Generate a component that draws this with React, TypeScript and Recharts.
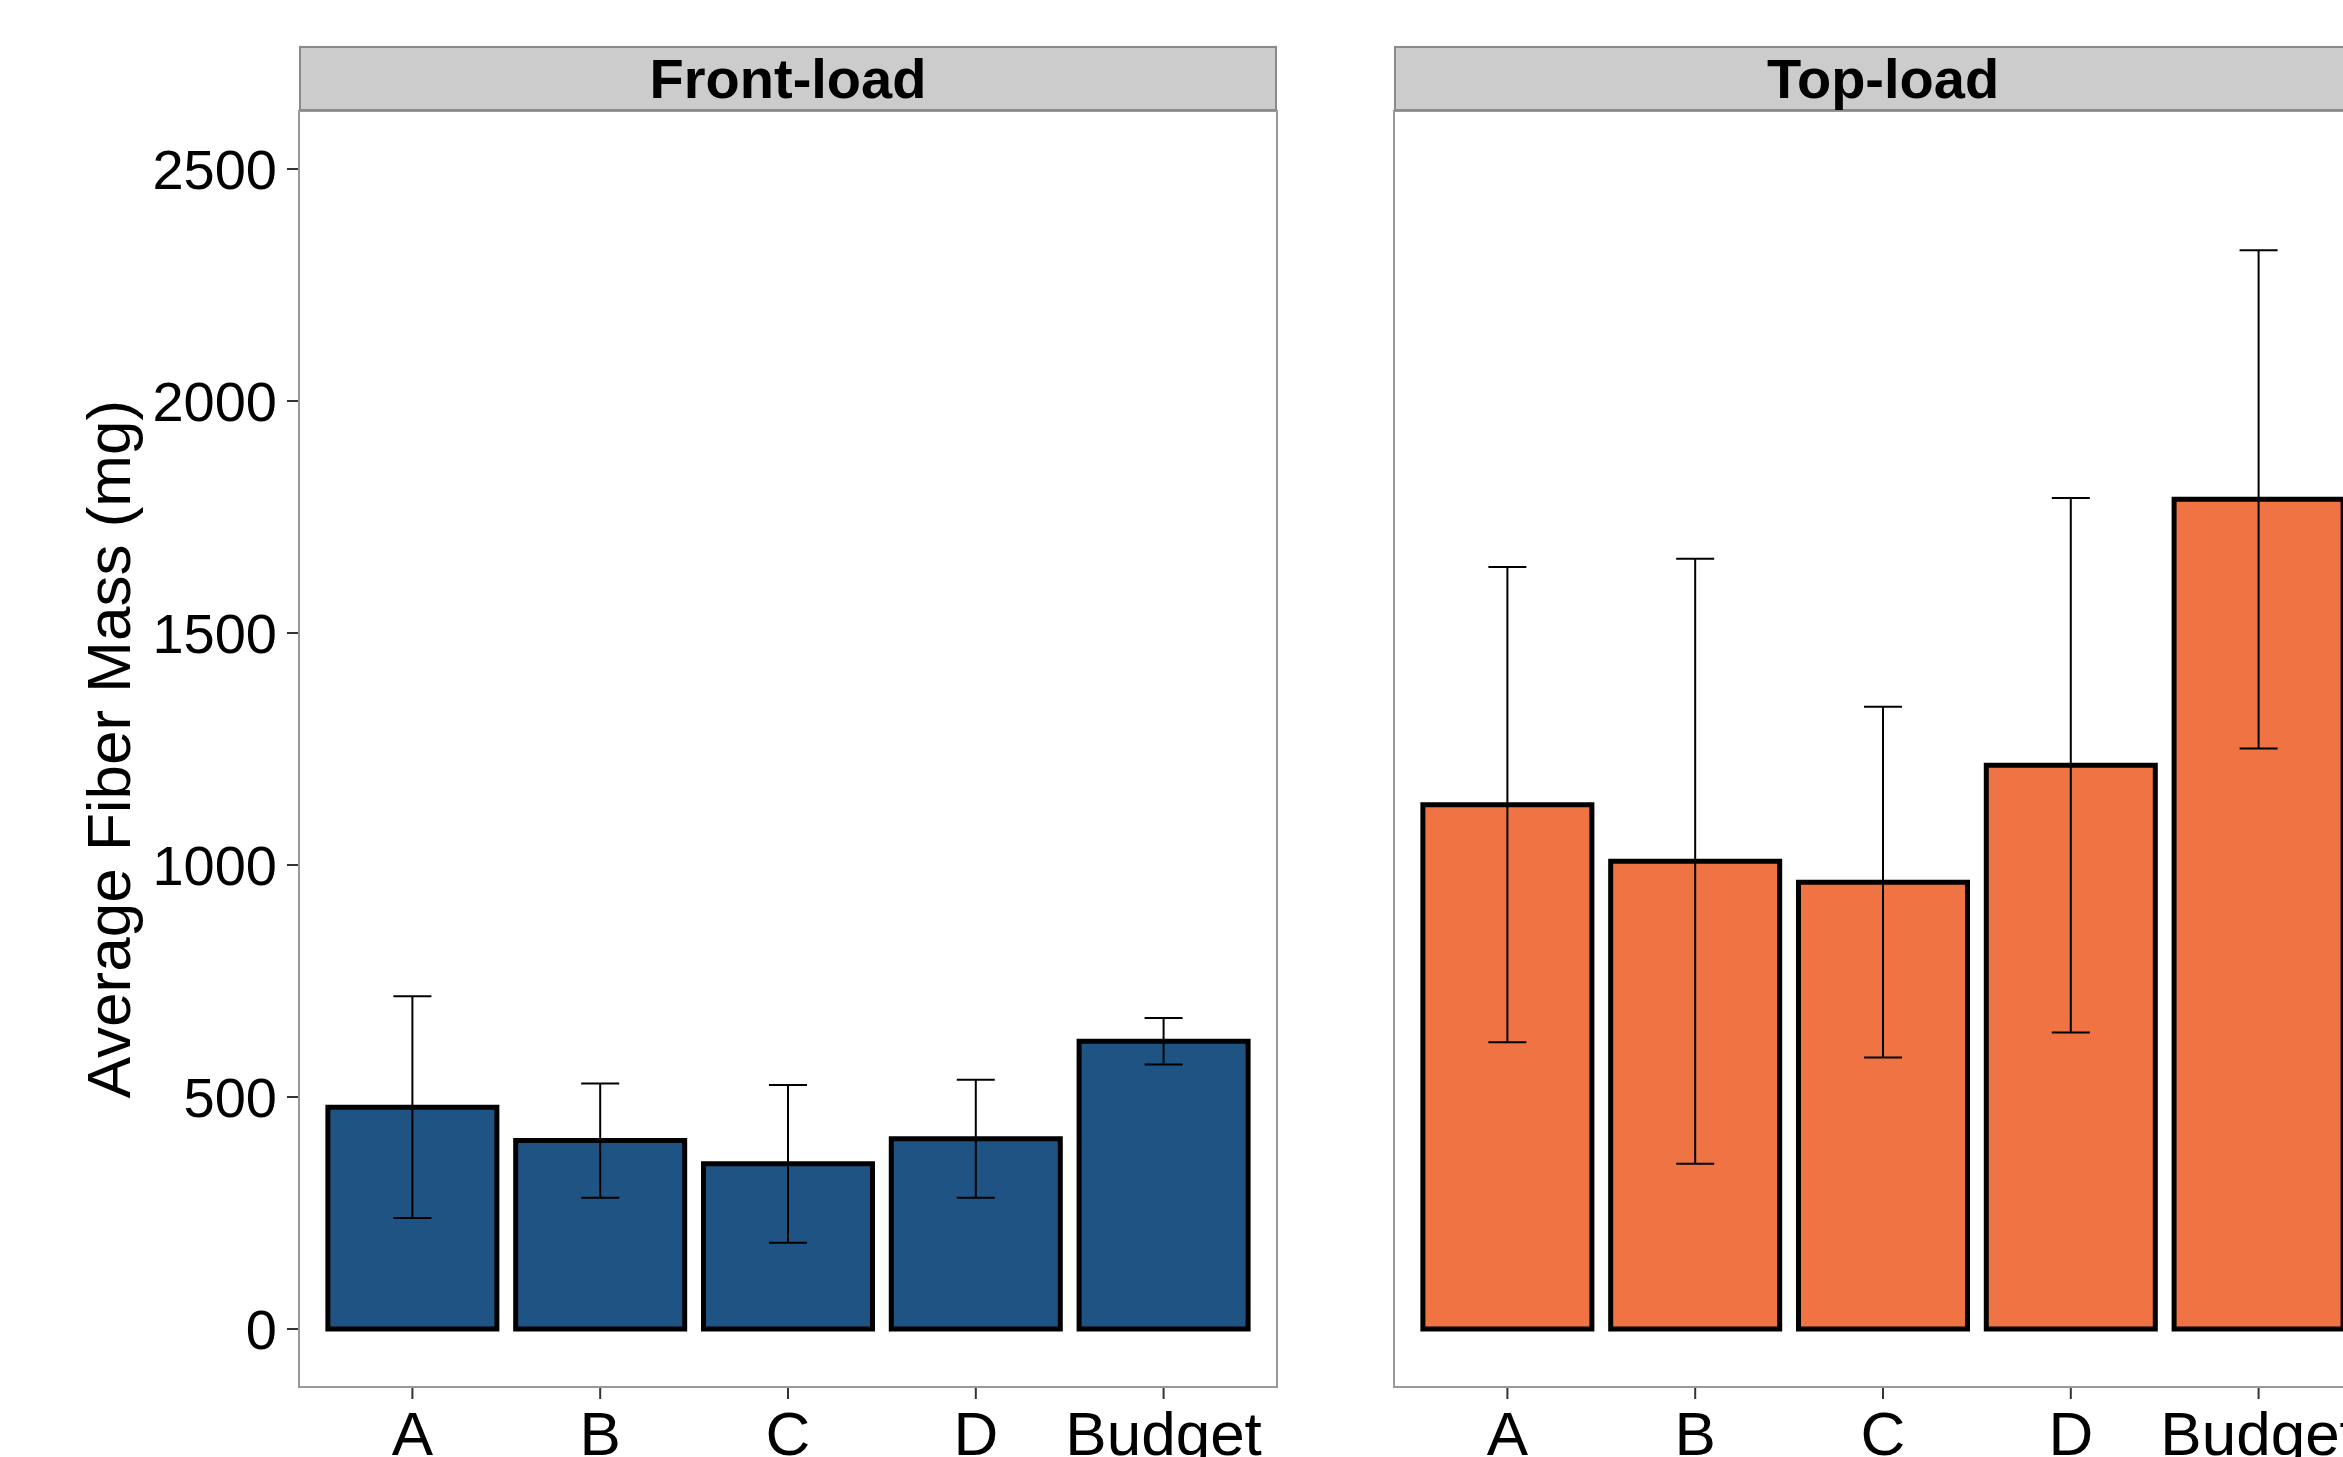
import { BarChart, Bar, XAxis, YAxis, ErrorBar } from "recharts";

const categories = ["A", "B", "C", "D", "Budget"];
const frontMeans = [478, 406, 356, 410, 620];
const frontErr = [239, 123, 170, 127, 50];
const topMeans = [1130, 1008, 963, 1215, 1788];
const topErr = [512, 652, 378, 576, 537];
const yTicks = [0, 500, 1000, 1500, 2000, 2500];

const frontData = categories.map((c, i) => ({ name: c, value: frontMeans[i], err: frontErr[i] }));
const topData = categories.map((c, i) => ({ name: c, value: topMeans[i], err: topErr[i] }));

const FONT = "'Liberation Sans', Arial, sans-serif";
const DOMAIN: [number, number] = [-125, 2625];

const PLOT_TOP = 111;
const PLOT_H = 1276;
const PLOT_W = 978;
const X_AXIS_H = 70;
const LEFT1 = 299;
const LEFT2 = 1394;

const xTickStyle = { fontSize: 62, fill: "#000", fontFamily: FONT };
const yTickStyle = { fontSize: 56, fill: "#000", fontFamily: FONT };

function Strip({ left, title }: { left: number; title: string }) {
  return (
    <div
      style={{
        position: "absolute",
        left,
        top: 46,
        width: PLOT_W,
        height: PLOT_TOP - 46,
        boxSizing: "border-box",
        background: "#CCCCCC",
        border: "2px solid #8a8a8a",
        display: "flex",
        alignItems: "center",
        justifyContent: "center",
        fontFamily: FONT,
        fontWeight: "bold",
        fontSize: 56,
        color: "#000",
      }}
    >
      {title}
    </div>
  );
}

function PanelBorder({ left }: { left: number }) {
  return (
    <div
      style={{
        position: "absolute",
        left: left - 1,
        top: PLOT_TOP - 1,
        width: PLOT_W + 2,
        height: PLOT_H + 2,
        boxSizing: "border-box",
        border: "2px solid #999",
        pointerEvents: "none",
      }}
    />
  );
}

export default function App() {
  return (
    <div
      style={{
        position: "absolute",
        left: 0,
        top: 0,
        width: 2343,
        height: 1457,
        overflow: "hidden",
        background: "#fff",
        fontFamily: FONT,
      }}
    >
      <div style={{ position: "absolute", left: 0, top: PLOT_TOP }}>
        <BarChart
          width={LEFT1 + PLOT_W + 13}
          height={PLOT_H + X_AXIS_H}
          data={frontData}
          margin={{ top: 0, right: 13, left: 0, bottom: 0 }}
          barCategoryGap="5%"
        >
          <XAxis
            dataKey="name"
            height={X_AXIS_H}
            axisLine={false}
            tickLine={{ stroke: "#333", strokeWidth: 2 }}
            tickSize={12}
            tickMargin={12}
            tick={xTickStyle}
            padding={{ left: 19.5, right: 19.5 }}
            interval={0}
          />
          <YAxis
            width={LEFT1}
            domain={DOMAIN}
            ticks={yTicks}
            allowDataOverflow
            axisLine={false}
            tickLine={{ stroke: "#333", strokeWidth: 2 }}
            tickSize={12}
            tickMargin={10}
            tick={yTickStyle}
            label={{
              value: "Average Fiber Mass (mg)",
              angle: -90,
              position: "center",
              dx: -42,
              style: { fontSize: 62, fill: "#000", fontFamily: FONT },
            }}
          />
          <Bar dataKey="value" fill="#1F5384" stroke="#000" strokeWidth={5} isAnimationActive={false}>
            <ErrorBar dataKey="err" width={19} stroke="#000" strokeWidth={2} isAnimationActive={false} />
          </Bar>
        </BarChart>
      </div>

      <div style={{ position: "absolute", left: LEFT2, top: PLOT_TOP }}>
        <BarChart
          width={PLOT_W}
          height={PLOT_H + X_AXIS_H}
          data={topData}
          margin={{ top: 0, right: 0, left: 0, bottom: 0 }}
          barCategoryGap="5%"
        >
          <XAxis
            dataKey="name"
            height={X_AXIS_H}
            axisLine={false}
            tickLine={{ stroke: "#333", strokeWidth: 2 }}
            tickSize={12}
            tickMargin={12}
            tick={xTickStyle}
            padding={{ left: 19.5, right: 19.5 }}
            interval={0}
          />
          <YAxis hide domain={DOMAIN} ticks={yTicks} allowDataOverflow />
          <Bar dataKey="value" fill="#F07343" stroke="#000" strokeWidth={5} isAnimationActive={false}>
            <ErrorBar dataKey="err" width={19} stroke="#000" strokeWidth={2} isAnimationActive={false} />
          </Bar>
        </BarChart>
      </div>

      <PanelBorder left={LEFT1} />
      <PanelBorder left={LEFT2} />
      <Strip left={LEFT1} title="Front-load" />
      <Strip left={LEFT2} title="Top-load" />
    </div>
  );
}
